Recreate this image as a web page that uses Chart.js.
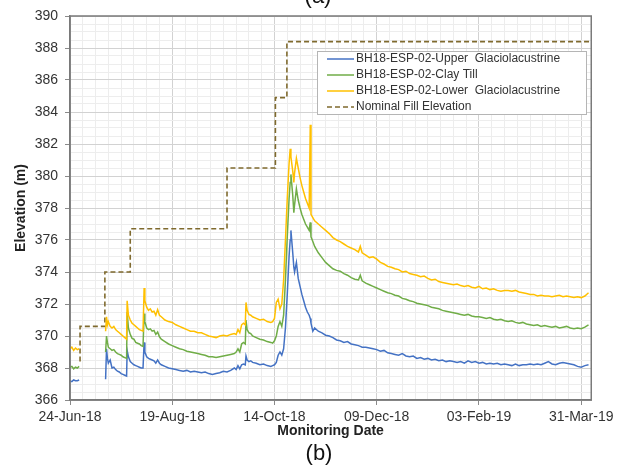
<!DOCTYPE html>
<html>
<head>
<meta charset="utf-8">
<script src="https://cdn.jsdelivr.net/npm/chart.js@4.4.1/dist/chart.umd.min.js"></script>
<style>
  html, body { margin: 0; padding: 0; background: #fff; }
  #wrap { width: 618px; height: 468px; }
</style>
</head>
<body>
<div id="wrap"><canvas id="levelsChart" width="618" height="468"></canvas></div>
<script>
// Piezometer levels BH18-ESP-02 vs nominal fill elevation
// x = days since 24-Jun-18

const xMajorDays = [0, 56, 112, 168, 224, 280];
const xTickLabels = ['24-Jun-18', '19-Aug-18', '14-Oct-18', '09-Dec-18', '03-Feb-19', '31-Mar-19'];

const days = [
  0, 1, 2, 3, 4, 5, 12,
  19.5, 20, 20.5, 21, 22, 23, 24, 25, 26, 27, 28, 29, 30, 31,
  31.3, 32, 33, 34, 35, 36, 37, 38, 39, 40,
  40.6, 41, 42, 43, 44, 45, 46, 47, 48, 49, 50,
  52, 54, 56, 58, 60, 62, 64, 66, 68, 70,
  72, 74, 76, 78, 80, 82, 84, 86, 88, 90,
  91, 92, 93, 94, 95, 96, 96.4, 97, 98, 99, 100,
  102, 104, 106, 108, 110,
  111, 112, 113, 114, 115, 116, 117, 118, 119, 120,
  120.6, 121, 122, 122.6, 123, 124, 125, 126, 127, 128, 129, 130, 131, 131.6, 132, 133, 134,
  136, 138, 140, 142, 144, 146, 148, 150, 152, 154, 156, 158, 159,
  160, 162, 164, 166, 168, 170, 172, 174, 176, 178, 180, 182, 184, 186, 188, 190,
  192, 194, 196, 198, 200, 202, 204, 206, 208, 210, 212, 214, 216, 218, 220, 222,
  224, 226, 228, 230, 232, 234, 236, 238, 240, 242, 244, 246, 248, 250, 252, 254,
  256, 258, 260, 262, 264, 266, 268, 270, 272, 274, 276, 278, 280, 282, 284
];

const upperGlacio = [
  367.2, 367.15, 367.25, 367.2, 367.2, 367.25, null,
  367.3, 369.2, 368.6, 368.3, 368.5, 368.0, 368.05, 367.9, 367.8, 367.75, 367.65, 367.6, 367.55, 367.5,
  369.1, 368.7, 368.4, 368.3, 368.2, 368.15, 368.1, 368.05, 368.0, 368.0,
  369.6, 369.0, 368.7, 368.6, 368.55, 368.5, 368.45, 368.3, 368.5, 368.3, 368.2,
  368.1, 368.0, 367.95, 367.9, 367.85, 367.8, 367.85, 367.75, 367.8, 367.75,
  367.7, 367.75, 367.65, 367.6, 367.65, 367.7, 367.8, 367.75, 367.85, 368.0,
  367.9, 368.15, 367.95, 368.2, 368.25, 368.2, 368.75, 368.5, 368.4, 368.45, 368.35,
  368.3, 368.2, 368.25, 368.15, 368.1,
  368.15, 368.2, 368.35, 368.8, 369.0, 368.8, 369.2, 370.5, 372.6, 375.0,
  376.0, 376.6, 375.2, 374.3, 374.0, 374.6, 373.6, 373.1, 372.6, 372.2, 371.8, 371.5, 371.3, 371.1, 370.8, 370.3, 370.5,
  370.3, 370.2, 370.05, 370.0, 369.9, 369.75, 369.7, 369.6, 369.65, 369.5, 369.45, 369.4, 369.35,
  369.3, 369.3, 369.25, 369.2, 369.15, 369.05, 369.1, 368.95, 368.9, 368.85, 368.8, 368.9, 368.75, 368.7, 368.75, 368.6,
  368.65, 368.55, 368.6, 368.5, 368.55, 368.45, 368.5, 368.4, 368.45, 368.4, 368.35, 368.4, 368.3, 368.45, 368.35, 368.4,
  368.3, 368.35, 368.25, 368.3, 368.25, 368.3, 368.2, 368.25, 368.2, 368.15, 368.25, 368.15, 368.2, 368.2, 368.25, 368.2,
  368.25, 368.2, 368.3, 368.4, 368.25, 368.2, 368.3, 368.35, 368.3, 368.25, 368.2, 368.1, 368.05, 368.15, 368.2
];

const clayTill = [
  368.05, 368.1, 367.95, 368.05, 368.0, 368.1, null,
  369.0, 370.0, 369.6, 369.3, 369.2, 369.1, 369.15, 369.0, 368.9, 368.85, 368.8, 368.7, 368.65, 368.6,
  371.5, 370.5, 370.1, 369.85, 369.8, 369.6, 369.55, 369.5, 369.4, 369.35,
  371.4, 370.9, 370.5, 370.4, 370.45, 370.3, 370.35, 370.1, 370.25, 369.95, 369.8,
  369.65, 369.5, 369.4, 369.3, 369.2, 369.15, 369.05, 369.0, 368.95, 368.9,
  368.85, 368.8, 368.7, 368.7, 368.65, 368.7, 368.75, 368.8, 368.85, 368.9,
  369.0, 369.2, 369.0, 369.5, 369.6, 369.5, 371.0, 370.4, 370.2, 370.15, 370.0,
  369.9, 369.8, 369.75, 369.65, 369.6,
  369.55, 369.7, 370.0, 370.6, 370.9, 370.6, 371.3, 373.5, 376.2, 378.6,
  379.6, 380.1, 378.8, 377.7, 378.2, 379.2, 378.5, 378.0, 377.6, 377.3, 377.0, 376.8, 376.6, 377.1, 376.2, 375.9, 375.6,
  375.2, 374.9, 374.6, 374.4, 374.2, 374.1, 374.05, 373.9, 373.8, 373.65, 373.55, 373.5, 373.8,
  373.45, 373.3, 373.2, 373.1, 373.0, 372.9, 372.8, 372.7, 372.65, 372.55, 372.5, 372.35, 372.3, 372.2, 372.15, 372.05,
  372.0, 371.95, 371.9, 371.8, 371.75, 371.7, 371.6, 371.55, 371.5, 371.45, 371.4, 371.35, 371.3, 371.35, 371.25, 371.2,
  371.2, 371.15, 371.1, 371.15, 371.05, 371.0, 371.05, 370.95, 370.9, 370.95, 370.85, 370.8, 370.85, 370.75, 370.7, 370.65,
  370.7, 370.6, 370.65, 370.6, 370.55, 370.6, 370.5, 370.55, 370.6, 370.5, 370.45, 370.5, 370.45, 370.55, 370.7
];

const lowerGlacio = [
  369.2, 369.3, 369.1, 369.25, 369.15, 369.2, null,
  370.3, 371.2, 370.7, 370.9, 370.6, 370.5, 370.6, 370.4, 370.3, 370.2, 370.1, 370.0, 369.9, 369.8,
  372.2, 371.3, 371.0, 370.8, 370.7, 370.6, 370.5, 370.4, 370.35, 370.3,
  373.0, 372.2, 371.8, 371.6, 371.7, 371.5, 371.55, 371.3, 371.65, 371.3, 371.2,
  371.0, 370.9, 370.85, 370.7, 370.6, 370.5, 370.4, 370.3, 370.3, 370.2,
  370.2, 370.1, 370.0, 369.95, 369.9, 370.0, 370.05, 370.0, 370.1, 370.15,
  370.1, 370.4, 370.2, 370.7, 370.8, 370.7, 372.1, 371.6, 371.35, 371.3, 371.2,
  371.1, 371.0, 371.05, 370.9, 370.85,
  370.9, 371.1, 372.1, 372.3, 371.7, 372.0, 373.5, 376.0, 378.6, 380.8,
  381.7, 381.2, 380.3, 379.6, 380.2, 381.1, 380.5, 379.9, 379.4, 379.0, 378.6, 378.3, 378.0, 383.2, 377.6, 377.4, 377.2,
  377.0, 376.8, 376.6, 376.4, 376.15, 376.0, 375.9, 375.75, 375.6, 375.5, 375.4, 375.25, 375.6,
  375.2, 375.05, 374.9, 374.95, 374.8, 374.6, 374.5, 374.35, 374.3, 374.2, 374.15, 374.0, 374.05, 373.9, 373.85, 373.8,
  373.7, 373.75, 373.6, 373.5, 373.55, 373.4, 373.35, 373.3, 373.25, 373.2, 373.25, 373.15, 373.1, 373.15, 373.05, 373.0,
  373.1, 372.95, 373.0, 372.9, 372.95, 372.85, 372.8, 372.85, 372.85, 372.8, 372.85, 372.75, 372.7, 372.65, 372.6, 372.6,
  372.5, 372.55, 372.5, 372.5, 372.45, 372.5, 372.55, 372.45, 372.5, 372.45, 372.4, 372.45, 372.4, 372.5, 372.7
];

// nominal fill elevation, stepped (each level holds until the next day listed)
const fillDays = [5.5, 5.5, 19.1, 33, 86, 112.5, 118.8, 285.5];
const fillElev = [368.4, 370.6, 374.0, 376.7, 380.5, 384.9, 388.4, 388.4];

const seriesNames = [
  'BH18-ESP-02-Upper  Glaciolacustrine',
  'BH18-ESP-02-Clay Till',
  'BH18-ESP-02-Lower  Glaciolacustrine',
  'Nominal Fill Elevation'
];
const seriesColors = ['#4472C4', '#70AD47', '#FFC000', '#7f6a2e'];

const FONT = '"Liberation Sans", Arial, sans-serif';
Chart.defaults.font.family = FONT;
Chart.defaults.color = '#333';

function toPoints(xs, ys) {
  return xs.map((x, i) => ({ x: x, y: ys[i] }));
}
const isMajorX = (v) => xMajorDays.indexOf(v) >= 0;
const isMajorY = (v) => Math.abs(v / 2 - Math.round(v / 2)) < 1e-6;

// box around plot area (Excel style)
const frame = {
  id: 'frame',
  afterDatasetsDraw(chart) {
    const { ctx, chartArea: a } = chart;
    ctx.save();
    ctx.strokeStyle = '#7a7a7a';
    ctx.lineWidth = 1.5;
    ctx.strokeRect(a.left, a.top, a.right - a.left, a.bottom - a.top);
    ctx.restore();
  }
};

const boxLegend = {
  id: 'boxLegend',
  afterDraw(chart) {
    const ctx = chart.ctx;
    const x0 = 317, y0 = 51, w = 269, h = 63;
    ctx.save();
    ctx.fillStyle = '#fff';
    ctx.fillRect(x0, y0, w, h);
    ctx.strokeStyle = '#b5b5b5';
    ctx.lineWidth = 1;
    ctx.strokeRect(x0 + 0.5, y0 + 0.5, w, h);
    ctx.font = '12px ' + FONT;
    ctx.textBaseline = 'middle';
    seriesNames.forEach((name, i) => {
      const y = y0 + 8 + i * 16;
      ctx.strokeStyle = seriesColors[i];
      ctx.lineWidth = i === 3 ? 1.6 : 1.5;
      ctx.setLineDash(i === 3 ? [5, 3] : []);
      ctx.beginPath();
      ctx.moveTo(x0 + 10, y);
      ctx.lineTo(x0 + 37, y);
      ctx.stroke();
      ctx.setLineDash([]);
      ctx.fillStyle = '#333';
      ctx.fillText(name, x0 + 39, y);
    });
    ctx.restore();
  }
};

const panelLabels = {
  id: 'panelLabels',
  afterDraw(chart) {
    const ctx = chart.ctx;
    ctx.save();
    ctx.font = '22px ' + FONT;
    ctx.fillStyle = '#111';
    ctx.textAlign = 'center';
    ctx.textBaseline = 'alphabetic';
    ctx.fillText('(a)', 318, 3);
    ctx.fillText('(b)', 319, 460);
    ctx.restore();
  }
};

const ctx = document.getElementById('levelsChart').getContext('2d');
new Chart(ctx, {
  type: 'line',
  data: {
    datasets: [
      {
        label: seriesNames[0],
        data: toPoints(days, upperGlacio),
        borderColor: seriesColors[0],
        borderWidth: 1.5,
        pointRadius: 0,
        order: 2
      },
      {
        label: seriesNames[1],
        data: toPoints(days, clayTill),
        borderColor: seriesColors[1],
        borderWidth: 1.5,
        pointRadius: 0,
        order: 1
      },
      {
        label: seriesNames[2],
        data: toPoints(days, lowerGlacio),
        borderColor: seriesColors[2],
        borderWidth: 1.5,
        pointRadius: 0,
        order: 0
      },
      {
        label: seriesNames[3],
        data: toPoints(fillDays, fillElev),
        borderColor: seriesColors[3],
        borderWidth: 1.6,
        borderDash: [5, 3],
        stepped: 'before',
        pointRadius: 0,
        order: 3
      }
    ]
  },
  options: {
    responsive: false,
    animation: false,
    events: [],
    layout: { padding: { left: 0, top: 16, right: 26, bottom: 28 } },
    plugins: {
      legend: { display: false },
      tooltip: { enabled: false }
    },
    scales: {
      x: {
        type: 'linear',
        min: 0,
        max: 285.5,
        afterBuildTicks: (scale) => {
          const t = [];
          for (let d = 0; d <= 280; d += 7) t.push({ value: d });
          scale.ticks = t;
        },
        afterFit: (scale) => { scale.height = 40; },
        ticks: {
          autoSkip: false,
          maxRotation: 0,
          minRotation: 0,
          padding: 4,
          color: '#333',
          font: { size: 14 },
          callback: (v) => {
            const i = xMajorDays.indexOf(v);
            return i >= 0 ? xTickLabels[i] : '';
          }
        },
        grid: {
          color: (c) => (c.tick && isMajorX(c.tick.value)) ? '#d2d2d2' : '#ededed',
          tickColor: (c) => (c.tick && isMajorX(c.tick.value)) ? '#8a8a8a' : 'rgba(0,0,0,0)',
          tickLength: 5,
          lineWidth: 1
        },
        border: { color: '#7a7a7a', width: 1.5 },
        title: {
          display: true,
          text: 'Monitoring Date',
          color: '#222',
          font: { size: 14, weight: 'bold' },
          padding: { top: 0, bottom: 0 }
        }
      },
      y: {
        min: 366,
        max: 390,
        afterFit: (scale) => { scale.width = 70; },
        ticks: {
          stepSize: 0.5,
          autoSkip: false,
          padding: 7,
          color: '#333',
          font: { size: 14 },
          callback: (v) => isMajorY(v) ? String(Math.round(v)) : ''
        },
        grid: {
          color: (c) => (c.tick && isMajorY(c.tick.value)) ? '#d2d2d2' : '#ededed',
          tickColor: (c) => (c.tick && isMajorY(c.tick.value)) ? '#8a8a8a' : 'rgba(0,0,0,0)',
          tickLength: 5,
          lineWidth: 1
        },
        border: { color: '#7a7a7a', width: 1.5 },
        title: {
          display: true,
          text: 'Elevation (m)',
          color: '#222',
          font: { size: 14, weight: 'bold' },
          padding: { top: 13, bottom: 0 }
        }
      }
    }
  },
  plugins: [frame, boxLegend, panelLabels]
});
</script>
</body>
</html>
